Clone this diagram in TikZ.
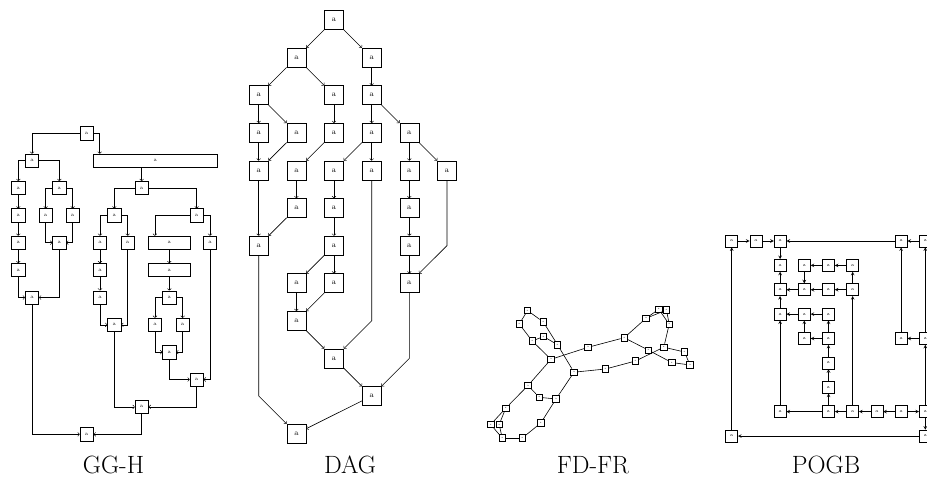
\documentclass[tikz,border=0pt]{standalone}
\usepackage{fontspec}
\usetikzlibrary{arrows}

\begin{document}
\begin{tikzpicture}[x=1pt,y=-1pt,line width=0.6pt,
    ghbox/.style={draw,minimum size=13.3pt,inner sep=0pt,font=\fontsize{5}{5}\selectfont},
    dagbox/.style={draw,minimum size=19pt,inner sep=0pt,font=\fontsize{8}{8}\selectfont},
    frbox/.style={draw,minimum size=6.5pt,inner sep=0pt,font=\fontsize{2.5}{2.5}\selectfont},
    pgbox/.style={draw,minimum size=12pt,inner sep=0pt,font=\fontsize{4.5}{4.5}\selectfont},
    figlabel/.style={inner sep=0pt,font=\fontsize{25}{25}\selectfont}]
    \useasboundingbox (0,0) rectangle (927,477);

    % GG-H
    \node[ghbox] (Gr) at (86.7,133.3) {a};
    \node[ghbox] (Ga) at (32,160.7) {a};
    \node[ghbox,minimum width=124pt] (Gb) at (155.3,160.7) {a};
    \node[ghbox] (Ga1) at (18.3,188) {a};
    \node[ghbox] (Ga2) at (18.3,215.4) {a};
    \node[ghbox] (Ga3) at (18.3,242.7) {a};
    \node[ghbox] (Ga4) at (18.3,270.1) {a};
    \node[ghbox] (Gc) at (59.3,188) {a};
    \node[ghbox] (Gc1) at (45.7,215.4) {a};
    \node[ghbox] (Gc2) at (72.7,215.4) {a};
    \node[ghbox] (Gc3) at (59.3,242.7) {a};
    \node[ghbox] (Gm) at (32,297.5) {a};
    \node[ghbox] (Gd) at (141.7,188) {a};
    \node[ghbox] (Ge) at (114.3,215.4) {a};
    \node[ghbox] (Ge1) at (100,242.7) {a};
    \node[ghbox] (Ge2) at (100,270.1) {a};
    \node[ghbox] (Ge3) at (100,297.5) {a};
    \node[ghbox] (Ge4) at (127.7,242.7) {a};
    \node[ghbox] (Ge5) at (114.3,324.8) {a};
    \node[ghbox] (Gf) at (196.7,215.4) {a};
    \node[ghbox,minimum width=41.7pt] (Gf1) at (169.3,242.7) {a};
    \node[ghbox,minimum width=41.7pt] (Gf2) at (169.3,270.1) {a};
    \node[ghbox] (Gf3) at (169.3,297.5) {a};
    \node[ghbox] (Gf4) at (155,324.8) {a};
    \node[ghbox] (Gf5) at (182.7,324.8) {a};
    \node[ghbox] (Gf6) at (169.3,352.2) {a};
    \node[ghbox] (Gf7) at (210,242.7) {a};
    \node[ghbox] (Gf8) at (196.7,379.5) {a};
    \node[ghbox] (Gj) at (141.7,406.9) {a};
    \node[ghbox] (Gk) at (86.7,434.3) {a};

    \draw[->] (Gr) -| (Ga);
    \draw[->] (Gr) -| ([xshift=6.7pt]Gb.north west);
    \draw[->] (Ga) -| (Ga1);
    \draw[->] (Ga) -| (Gc);
    \draw[->] (Gc) -| (Gc1);
    \draw[->] (Gc) -| (Gc2);
    \draw[->] (Gc1) |- (Gc3);
    \draw[->] (Gc2) |- (Gc3);
    \draw[->] (Ga4) |- (Gm);
    \draw[->] (Gc3) |- (Gm);
    \draw[->] (Gb.south -| Gd) -- (Gd);
    \draw[->] (Gd) -| (Ge);
    \draw[->] (Gd) -| (Gf);
    \draw[->] (Ge) -| (Ge1);
    \draw[->] (Ge) -| (Ge4);
    \draw[->] (Ge3) |- (Ge5);
    \draw[->] (Ge4) |- (Ge5);
    \draw[->] (Gf) -| ([xshift=6.7pt]Gf1.north west);
    \draw[->] (Gf) -| (Gf7);
    \draw[->] (Gf3) -| (Gf4);
    \draw[->] (Gf3) -| (Gf5);
    \draw[->] (Gf4) |- (Gf6);
    \draw[->] (Gf5) |- (Gf6);
    \draw[->] (Gf6) |- (Gf8);
    \draw[->] (Gf7) |- (Gf8);
    \draw[->] (Ge5) |- (Gj);
    \draw[->] (Gf8) |- (Gj);
    \draw[->] (Gm) |- (Gk);
    \draw[->] (Gj) |- (Gk);
    \path[->] (Ga1) edge (Ga2)
    (Ga2) edge (Ga3)
    (Ga3) edge (Ga4)
    (Ge1) edge (Ge2)
    (Ge2) edge (Ge3)
    (Gf1) edge (Gf2)
    (Gf2) edge (Gf3);

    % DAG
    \node[dagbox] (Dr0c2) at (334.0,20.0) {a};
    \node[dagbox] (Dr1c1) at (296.4,57.6) {a};
    \node[dagbox] (Dr1c3) at (371.7,57.6) {a};
    \node[dagbox] (Dr2c0) at (258.7,95.2) {a};
    \node[dagbox] (Dr2c2) at (334.0,95.2) {a};
    \node[dagbox] (Dr2c3) at (371.7,95.2) {a};
    \node[dagbox] (Dr3c0) at (258.7,132.8) {a};
    \node[dagbox] (Dr3c1) at (296.4,132.8) {a};
    \node[dagbox] (Dr3c2) at (334.0,132.8) {a};
    \node[dagbox] (Dr3c3) at (371.7,132.8) {a};
    \node[dagbox] (Dr3c4) at (409.3,132.8) {a};
    \node[dagbox] (Dr4c0) at (258.7,170.4) {a};
    \node[dagbox] (Dr4c1) at (296.4,170.4) {a};
    \node[dagbox] (Dr4c2) at (334.0,170.4) {a};
    \node[dagbox] (Dr4c3) at (371.7,170.4) {a};
    \node[dagbox] (Dr4c4) at (409.3,170.4) {a};
    \node[dagbox] (Dr4c5) at (447.0,170.4) {a};
    \node[dagbox] (Dr5c1) at (296.4,208.0) {a};
    \node[dagbox] (Dr5c2) at (334.0,208.0) {a};
    \node[dagbox] (Dr5c4) at (409.3,208.0) {a};
    \node[dagbox] (Dr6c0) at (258.7,245.6) {a};
    \node[dagbox] (Dr6c2) at (334.0,245.6) {a};
    \node[dagbox] (Dr6c4) at (409.3,245.6) {a};
    \node[dagbox] (Dr7c1) at (296.4,283.2) {a};
    \node[dagbox] (Dr7c2) at (334.0,283.2) {a};
    \node[dagbox] (Dr7c4) at (409.3,283.2) {a};
    \node[dagbox] (Dr8c1) at (296.4,320.8) {a};
    \node[dagbox] (Dr9c2) at (334.0,358.4) {a};
    \node[dagbox] (Dr10c3) at (371.7,396.0) {a};
    \node[dagbox] (Dr11c1) at (296.4,433.6) {a};

    \path[->] (Dr0c2) edge (Dr1c1)
    (Dr0c2) edge (Dr1c3)
    (Dr1c1) edge (Dr2c0)
    (Dr1c1) edge (Dr2c2)
    (Dr1c3) edge (Dr2c3)
    (Dr2c0) edge (Dr3c0)
    (Dr2c0) edge (Dr3c1)
    (Dr2c2) edge (Dr3c2)
    (Dr2c3) edge (Dr3c3)
    (Dr2c3) edge (Dr3c4)
    (Dr3c0) edge (Dr4c0)
    (Dr3c1) edge (Dr4c0)
    (Dr3c2) edge (Dr4c1)
    (Dr3c3) edge (Dr4c2)
    (Dr3c3) edge (Dr4c3)
    (Dr3c4) edge (Dr4c4)
    (Dr3c4) edge (Dr4c5)
    (Dr4c0) edge (Dr6c0)
    (Dr4c1) edge (Dr5c1)
    (Dr5c1) edge (Dr6c0)
    (Dr4c2) edge (Dr5c2)
    (Dr5c2) edge (Dr6c2)
    (Dr6c2) edge (Dr7c1)
    (Dr6c2) edge (Dr7c2)
    (Dr4c4) edge (Dr5c4)
    (Dr5c4) edge (Dr6c4)
    (Dr6c4) edge (Dr7c4)
    (Dr7c1) edge (Dr8c1)
    (Dr7c2) edge (Dr8c1)
    (Dr8c1) edge (Dr9c2)
    (Dr9c2) edge (Dr10c3)
    (Dr10c3) edge (Dr11c1);
    \draw[->] (Dr4c3) -- (Dr4c3 |- Dr8c1) -- (Dr9c2);
    \draw[->] (Dr4c5) -- (Dr4c5 |- Dr6c4) -- (Dr7c4);
    \draw[->] (Dr7c4) -- (Dr7c4 |- Dr9c2) -- (Dr10c3);
    \draw[->] (Dr6c0) -- (Dr6c0 |- Dr10c3) -- (Dr11c1);

    % FD-FR
    \node[frbox] (F1) at (527.5,310.5) {a};
    \node[frbox] (F2) at (519.3,324) {a};
    \node[frbox] (F3) at (543.3,322) {a};
    \node[frbox] (F4) at (543.5,336.5) {a};
    \node[frbox] (F5) at (532.2,341) {a};
    \node[frbox] (F6) at (557.5,344.7) {a};
    \node[frbox] (F7) at (551,359.3) {a};
    \node[frbox] (F8) at (574,372.2) {a};
    \node[frbox] (F9) at (588,347.3) {a};
    \node[frbox] (F10) at (624.2,337.7) {a};
    \node[frbox] (F11) at (605.5,369) {a};
    \node[frbox] (F12) at (635.5,361) {a};
    \node[frbox] (F13) at (648.5,350.2) {a};
    \node[frbox] (F14) at (663.8,347.2) {a};
    \node[frbox] (F15) at (684.5,352) {a};
    \node[frbox] (F16) at (690,365) {a};
    \node[frbox] (F17) at (671.7,362.5) {a};
    \node[frbox] (F18) at (669.2,324.3) {a};
    \node[frbox] (F19) at (666.5,310) {a};
    \node[frbox] (F20) at (658.8,309.2) {a};
    \node[frbox] (F21) at (646,318.3) {a};
    \node[frbox] (F22) at (528,385.5) {a};
    \node[frbox] (F23) at (539.3,397.3) {a};
    \node[frbox] (F24) at (556,399) {a};
    \node[frbox] (F25) at (505.7,408.2) {a};
    \node[frbox] (F26) at (540.8,423) {a};
    \node[frbox] (F27) at (490.7,424.5) {a};
    \node[frbox] (F28) at (499.2,424.5) {a};
    \node[frbox] (F29) at (502.2,438) {a};
    \node[frbox] (F30) at (522.3,438) {a};

    \path (F1) edge (F2)
    (F1) edge (F3)
    (F2) edge (F5)
    (F3) edge (F6)
    (F5) edge (F4)
    (F4) edge (F6)
    (F5) edge (F7)
    (F6) edge (F8)
    (F7) edge (F9)
    (F9) edge (F10)
    (F10) edge (F21)
    (F21) edge (F20)
    (F21) edge (F19)
    (F20) edge (F18)
    (F19) edge (F18)
    (F18) edge (F14)
    (F10) edge (F13)
    (F13) edge (F17)
    (F17) edge (F16)
    (F16) edge (F15)
    (F15) edge (F14)
    (F14) edge (F12)
    (F12) edge (F11)
    (F11) edge (F8)
    (F7) edge (F22)
    (F22) edge (F23)
    (F23) edge (F24)
    (F24) edge (F8)
    (F24) edge (F26)
    (F26) edge (F30)
    (F30) edge (F29)
    (F22) edge (F25)
    (F25) edge (F27)
    (F25) edge (F28)
    (F27) edge (F29)
    (F28) edge (F29);

    % POGB
    \node[pgbox] (P00) at (731.7,241.0) {a};
    \node[pgbox] (P10) at (755.9,241.0) {a};
    \node[pgbox] (P20) at (780.1,241.0) {a};
    \node[pgbox] (P70) at (901.1,241.0) {a};
    \node[pgbox] (P80) at (925.3,241.0) {a};
    \node[pgbox] (P21) at (780.1,265.4) {a};
    \node[pgbox] (P31) at (804.3,265.4) {a};
    \node[pgbox] (P41) at (828.5,265.4) {a};
    \node[pgbox] (P51) at (852.7,265.4) {a};
    \node[pgbox] (P22) at (780.1,289.7) {a};
    \node[pgbox] (P32) at (804.3,289.7) {a};
    \node[pgbox] (P42) at (828.5,289.7) {a};
    \node[pgbox] (P52) at (852.7,289.7) {a};
    \node[pgbox] (P23) at (780.1,314.1) {a};
    \node[pgbox] (P33) at (804.3,314.1) {a};
    \node[pgbox] (P43) at (828.5,314.1) {a};
    \node[pgbox] (P34) at (804.3,338.5) {a};
    \node[pgbox] (P44) at (828.5,338.5) {a};
    \node[pgbox] (P74) at (901.1,338.5) {a};
    \node[pgbox] (P84) at (925.3,338.5) {a};
    \node[pgbox] (P45) at (828.5,362.9) {a};
    \node[pgbox] (P46) at (828.5,387.2) {a};
    \node[pgbox] (P27) at (780.1,411.6) {a};
    \node[pgbox] (P47) at (828.5,411.6) {a};
    \node[pgbox] (P57) at (852.7,411.6) {a};
    \node[pgbox] (P67) at (876.9,411.6) {a};
    \node[pgbox] (P77) at (901.1,411.6) {a};
    \node[pgbox] (P87) at (925.3,411.6) {a};
    \node[pgbox] (P08) at (731.7,436.0) {a};
    \node[pgbox] (P88) at (925.3,436.0) {a};

    \path[-stealth] (P00) edge (P10)
    (P10) edge (P20)
    (P70) edge (P20)
    (P80) edge (P70)
    (P20) edge (P21)
    (P22) edge (P21)
    (P31) edge (P32)
    (P41) edge (P31)
    (P51) edge (P41)
    (P52) edge (P51)
    (P32) edge (P22)
    (P42) edge (P32)
    (P52) edge (P42)
    (P23) edge (P22)
    (P33) edge (P23)
    (P43) edge (P33)
    (P34) edge (P33)
    (P44) edge (P43)
    (P44) edge (P34)
    (P45) edge (P44)
    (P46) edge (P45)
    (P47) edge (P46)
    (P47) edge (P27)
    (P27) edge (P23)
    (P57) edge (P47)
    (P57) edge (P52)
    (P67) edge (P57)
    (P77) edge (P67)
    (P77) edge (P87)
    (P87) edge (P84)
    (P84) edge (P80)
    (P87) edge (P88)
    (P84) edge (P74)
    (P74) edge (P70)
    (P08) edge (P00)
    (P88) edge (P08);

    % captions
    \node[figlabel] (capGH) at (113.5,465) {GG-H};
    \node[figlabel] (capDAG) at (350,465) {DAG};
    \node[figlabel] (capFR) at (593,465) {FD-FR};
    \node[figlabel] (capPO) at (826,465) {POGB};
\end{tikzpicture}
\end{document}
